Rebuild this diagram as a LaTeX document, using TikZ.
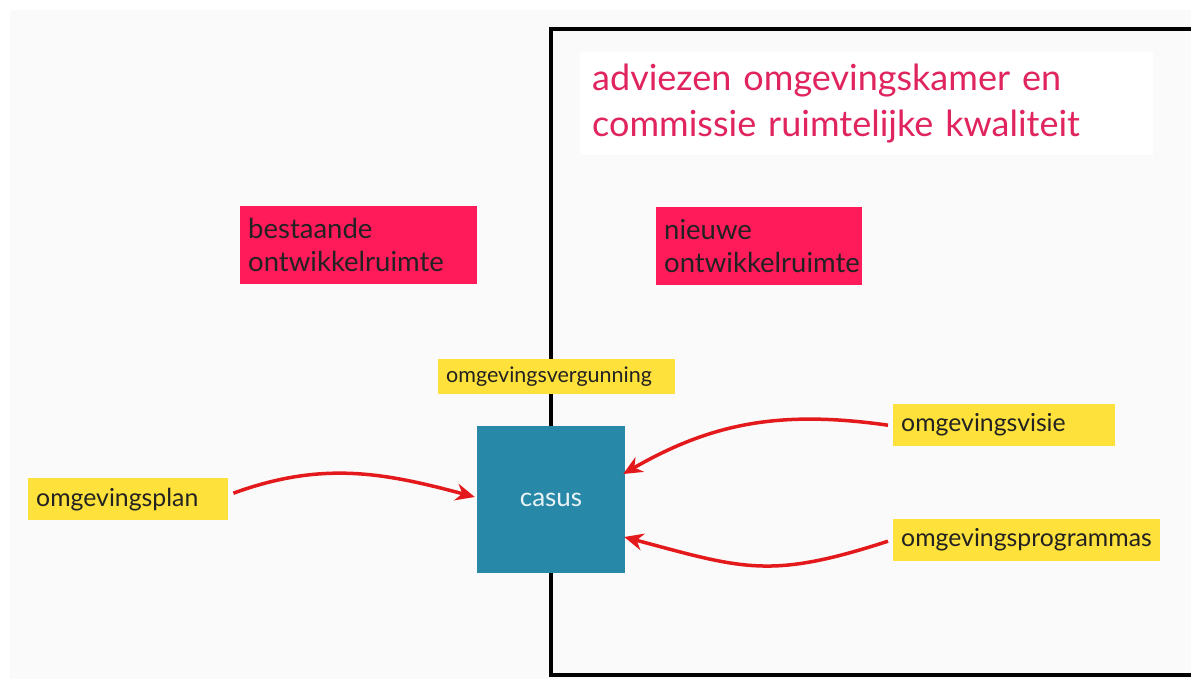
\documentclass[tikz,border=0pt]{standalone}
\usepackage{fontspec}
\setmainfont{Lato}
\usetikzlibrary{arrows.meta,calc}
\definecolor{panel}{HTML}{FAFAFA}
\definecolor{hotpink}{HTML}{FF1A5A}
\definecolor{titlepink}{HTML}{E0245E}
\definecolor{sticky}{HTML}{FEE13A}
\definecolor{casusblue}{HTML}{2788A8}
\definecolor{arrowred}{HTML}{E3191C}
\definecolor{ink}{HTML}{222222}
\tikzset{
  pinkbox/.style={fill=hotpink, text=ink, anchor=north west, align=left,
    inner xsep=8pt, inner ysep=0pt, minimum height=78pt,
    font=\fontsize{27.5}{33}\selectfont},
  yellowbox/.style={fill=sticky, text=ink, anchor=north west, align=left,
    inner xsep=8pt, inner ysep=0pt, minimum height=42pt,
    font=\fontsize{24.8}{28}\selectfont},
  redarrow/.style={draw=arrowred, line width=3.5pt,
    -{Stealth[length=19pt,width=17pt]}},
}
\begin{document}
\begin{tikzpicture}[x=1pt,y=1pt]
\useasboundingbox (0,0) rectangle (1191,679);
\fill[white] (0,0) rectangle (1191,679);
\fill[panel] (10,0) rectangle (1191,669);
% big black frame
\draw[line width=4pt, black] (1210,650) -- (551,650) -- (551,4) -- (1210,4);
% title
\node[fill=white, anchor=north west, minimum width=573pt, minimum height=103pt,
  text width=549pt, inner xsep=12pt, inner ysep=0pt, align=left, text=titlepink,
  font=\fontsize{36}{46}\selectfont] (title) at (580,627)
  {adviezen omgevingskamer en\\commissie ruimtelijke kwaliteit};
% pink boxes
\node[pinkbox, text width=221pt] (bestaand) at (240,473) {bestaande\\ontwikkelruimte};
\node[pinkbox, text width=190pt] (nieuw) at (656,472) {nieuwe\\ontwikkelruimte};
% casus
\node[fill=casusblue, minimum width=148pt, minimum height=147pt, inner sep=0pt,
  text=white!90!casusblue, font=\fontsize{26}{30}\selectfont] (casus) at (551,179.5) {casus};
% yellow boxes
\node[yellowbox, text width=221pt, minimum height=35pt, font=\fontsize{21.5}{24}\selectfont]
  (verg) at (438,320) {omgevingsvergunning};
\node[yellowbox, text width=184pt] (plan) at (28,201) {omgevingsplan};
\node[yellowbox, text width=206pt] (visie) at (893,275) {omgevingsvisie};
\node[yellowbox, text width=251pt] (prog) at (893,160) {omgevingsprogrammas};
% arrows
\draw[redarrow] ($(plan.east)+(5,6)$) to[out=20,in=165] ($(casus.west)+(-2,2.5)$);
\draw[redarrow] ($(visie.west)+(-5,0)$) to[out=172,in=30] ($(casus.east)+(-2,25.5)$);
\draw[redarrow] ($(prog.west)+(-5,-1)$) to[out=-162,in=-15,looseness=1.2] ($(casus.east)+(-1,-37.5)$);
\end{tikzpicture}
\end{document}
